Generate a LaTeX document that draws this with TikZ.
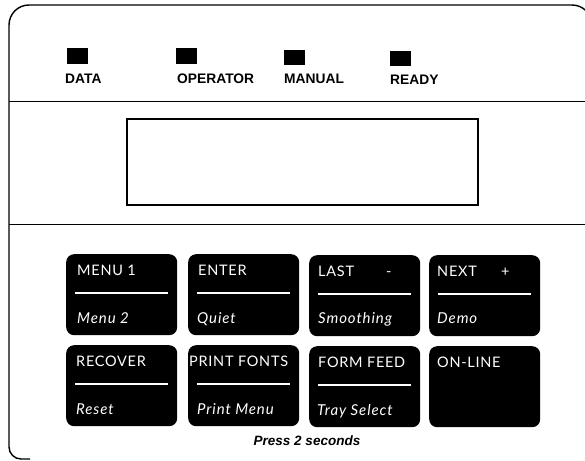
\documentclass[tikz,border=0pt]{standalone}
\usepackage{fontspec}
\setmainfont{Lato}
\newfontfamily\labelfont{Liberation Sans}
\newfontfamily\keycapfont[LetterSpace=5]{Lato}
\newfontfamily\keysubfont[LetterSpace=6]{Lato}
\usetikzlibrary{calc}
\begin{document}
\begin{tikzpicture}[x=1pt,y=-1pt,
  frame/.style={line width=1.4pt},
  rule/.style={line width=0.9pt},
  led/.style={fill=black,draw=none,minimum width=21pt,minimum height=15pt,inner sep=0pt},
  ledlabel/.style={font=\labelfont\fontsize{13.8}{15}\selectfont\bfseries,anchor=base west,inner sep=0pt},
  keybox/.style={fill=black,draw=none,rounded corners=8pt,minimum width=111pt,minimum height=81pt,inner sep=0pt},
  keytop/.style={text=white,font=\keycapfont\fontsize{14.5}{16}\selectfont,anchor=base west,inner sep=0pt},
  keybot/.style={text=white,font=\keysubfont\fontsize{15}{17}\selectfont\itshape,anchor=base west,inner sep=0pt},
  keyrule/.style={white,line width=1.3pt}]
\useasboundingbox (0,0) rectangle (585,460);
\clip (0,0) rectangle (585,460);

% panel outline: small bottom-left bend, larger top corners
\draw[frame] (30,459) -- (21,459) .. controls (14.4,459) and (9,453.6) .. (9,447)
  [rounded corners=20pt] -- (9,5) -- (592,5) -- (592,200);

% separators
\draw[rule] (9,101) -- (585,101);
\draw[rule] (9,224) -- (585,224);

% status lamps
\node[led] (l1) at (77.5,56) {};
\node[led] (l2) at (186.5,56) {};
\node[led] (l3) at (294,57) {};
\node[led] (l4) at (400.5,58) {};
\node[ledlabel] (t1) at (65,83) {DATA};
\node[ledlabel] (t2) at (177,83) {OPERATOR};
\node[ledlabel] (t3) at (284,83) {MANUAL};
\node[ledlabel] (t4) at (390,84) {READY};

% display window
\node[draw,line width=1.2pt,minimum width=351pt,minimum height=86pt,inner sep=0pt] (disp) at (302.5,162) {};

% keys
\foreach \n/\x/\y in {k11/66/254, k12/188/254, k13/309/255, k14/429/255,
                      k21/66/345, k22/188/345, k23/309/346, k24/429/346}
  \node[keybox,anchor=north west] (\n) at (\x,\y) {};

\foreach \n in {k11,k12,k13,k21,k22,k23,k14}
  \draw[keyrule] ($(\n.north west)+(9,39)$) -- ($(\n.north east)+(-9,39)$);

\node[keytop] at ($(k11.north west)+(11,21)$) {MENU 1};
\node[keytop] at ($(k12.north west)+(10,21)$) {ENTER};
\node[keytop] at ($(k13.north west)+(9,21)$) {LAST};
\node[keytop] at ($(k13.north west)+(77,21)$) {-};
\node[keytop] at ($(k14.north west)+(8,21)$) {NEXT};
\node[keytop] at ($(k14.north west)+(72,21)$) {+};
\node[keytop] at ($(k21.north west)+(10,21)$) {RECOVER};
\node[keytop] at ($(k22.north west)+(1,21)$) {PRINT FONTS};
\node[keytop] at ($(k23.north west)+(9,21)$) {FORM FEED};
\node[keytop] at ($(k24.north west)+(8,21)$) {ON-LINE};

\node[keybot] at ($(k11.north west)+(11,69)$) {Menu 2};
\node[keybot] at ($(k12.north west)+(9,69)$) {Quiet};
\node[keybot] at ($(k13.north west)+(9,68)$) {Smoothing};
\node[keybot] at ($(k14.north west)+(8,68)$) {Demo};
\node[keybot] at ($(k21.north west)+(10,69)$) {Reset};
\node[keybot] at ($(k22.north west)+(9,69)$) {Print Menu};
\node[keybot] at ($(k23.north west)+(8,69)$) {Tray Select};

\node[font=\labelfont\fontsize{13.5}{15}\selectfont\bfseries\itshape,anchor=base,inner sep=0pt] (press) at (307,445) {Press 2 seconds};
\end{tikzpicture}
\end{document}
